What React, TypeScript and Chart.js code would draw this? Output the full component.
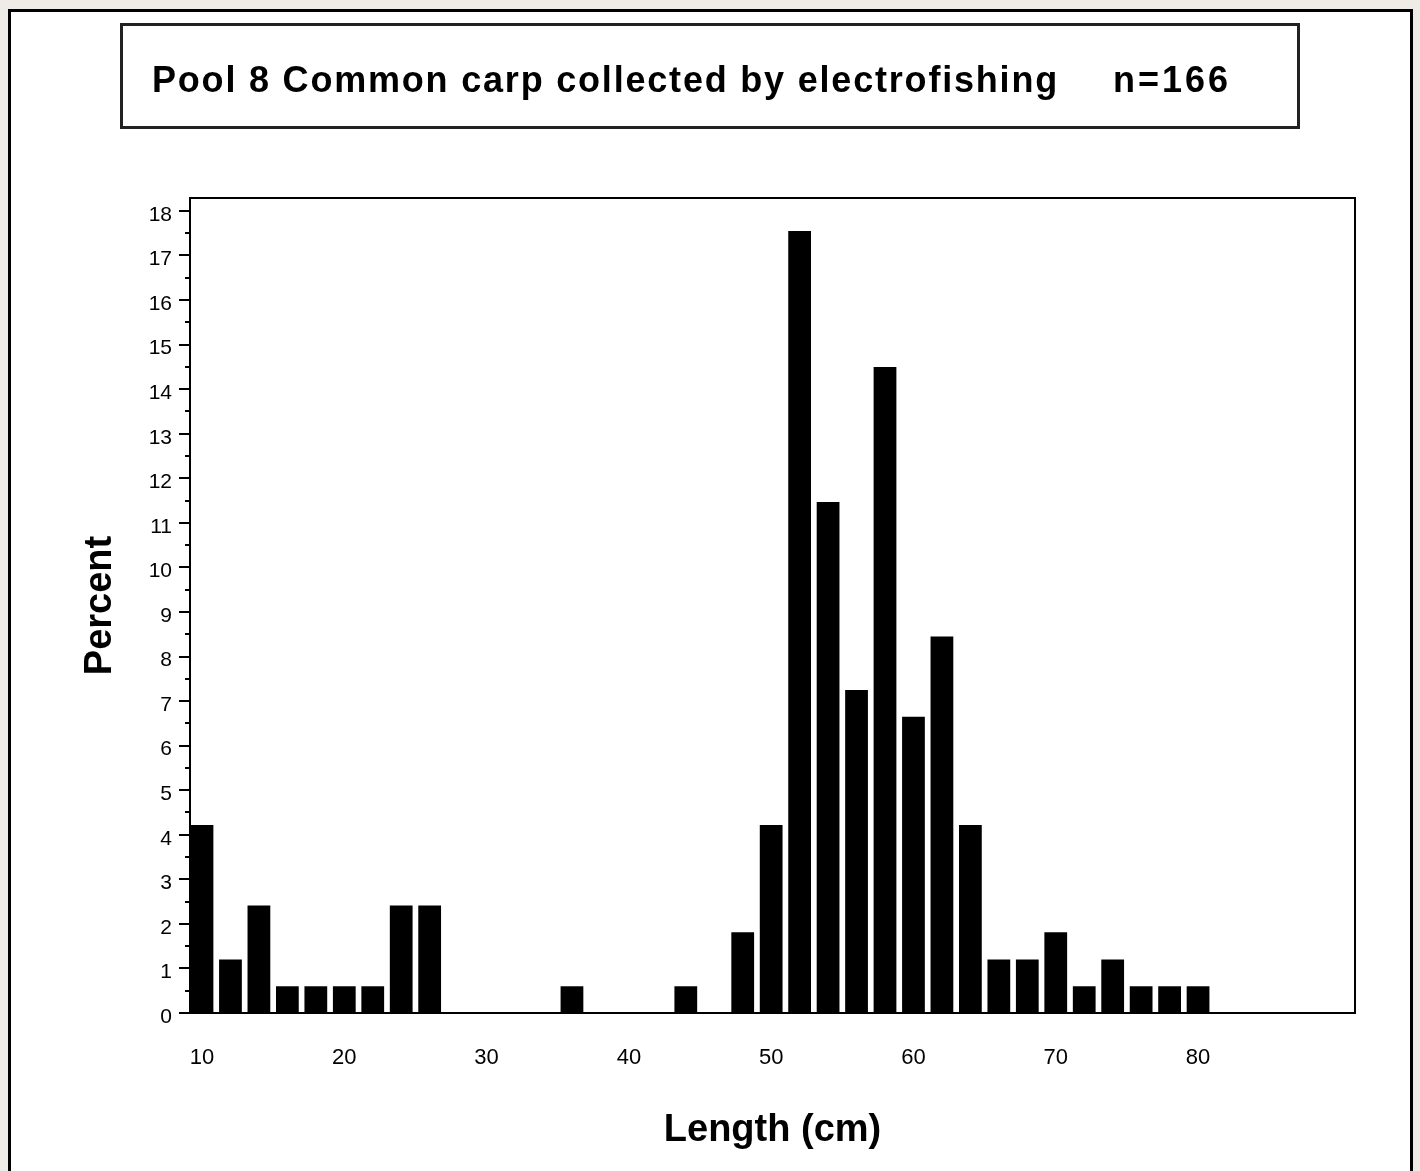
import React, { useEffect, useRef } from "react";
import { Chart, registerables } from "chart.js";

Chart.register(...registerables);

// Length classes (cm), bar centres
const lengthClasses = [
  10, 12, 14, 16, 18, 20, 22, 24, 26, 28, 30, 32, 34, 36, 38, 40, 42, 44,
  46, 48, 50, 52, 54, 56, 58, 60, 62, 64, 66, 68, 70, 72, 74, 76, 78, 80,
];

// Percent of fish in each class (n = 166)
const percentValues = [
  4.22, 1.2, 2.41, 0.6, 0.6, 0.6, 0.6, 2.41, 2.41, 0, 0, 0, 0, 0.6, 0, 0, 0,
  0.6, 0, 1.81, 4.22, 17.55, 11.47, 7.25, 14.5, 6.65, 8.45, 4.22, 1.2, 1.2,
  1.81, 0.6, 1.2, 0.6, 0.6, 0.6,
];

const xTickValues = [10, 20, 30, 40, 50, 60, 70, 80];
const yTickValues = [0, 1, 2, 3, 4, 5, 6, 7, 8, 9, 10, 11, 12, 13, 14, 15, 16, 17, 18];
const yMinorTickValues = yTickValues.slice(0, -1).map((v) => v + 0.5);

const titleMain = "Pool 8 Common carp collected by electrofishing";
const titleCount = "n=166";
const xTitle = "Length (cm)";
const yTitle = "Percent";

const FONT = "'Liberation Sans', Arial, Helvetica, sans-serif";

const frameTicksPlugin = {
  id: "frameTicks",
  afterDraw(chart: any) {
    const { ctx, chartArea } = chart;
    const { left, top, right, bottom } = chartArea;
    const yScale = chart.scales.y;
    ctx.save();
    ctx.strokeStyle = "#000";
    ctx.lineWidth = 2;
    ctx.strokeRect(left, top, right - left, bottom - top);
    ctx.beginPath();
    for (const v of yTickValues) {
      const py = Math.round(yScale.getPixelForValue(v));
      ctx.moveTo(left - 11, py);
      ctx.lineTo(left, py);
    }
    for (const v of yMinorTickValues) {
      const py = Math.round(yScale.getPixelForValue(v));
      ctx.moveTo(left - 5, py);
      ctx.lineTo(left, py);
    }
    ctx.stroke();
    ctx.restore();
  },
};

export default function App() {
  const canvasRef = useRef<HTMLCanvasElement | null>(null);

  useEffect(() => {
    const canvas = canvasRef.current;
    if (!canvas) return;
    const chart = new Chart(canvas, {
      type: "bar",
      data: {
        datasets: [
          {
            label: "Percent",
            data: lengthClasses.map((x, i) => ({ x, y: percentValues[i] })),
            backgroundColor: "#000",
            borderWidth: 0,
            barPercentage: 0.8,
            categoryPercentage: 1,
          },
        ],
      },
      options: {
        responsive: false,
        animation: false,
        devicePixelRatio: 1,
        layout: { padding: { top: 198, right: 65, bottom: 18, left: 78 } },
        plugins: {
          legend: { display: false },
          tooltip: { enabled: false },
          title: { display: false },
        },
        scales: {
          x: {
            type: "linear",
            min: 9.157,
            max: 91.03,
            offset: false,
            grid: { display: false, drawTicks: false, tickLength: 0 },
            border: { display: false },
            afterBuildTicks: (scale: any) => {
              scale.ticks = xTickValues.map((value) => ({ value }));
            },
            afterFit: (scale: any) => {
              scale.height = 140;
            },
            ticks: {
              color: "#000",
              font: { family: FONT, size: 22 },
              padding: 32,
              maxRotation: 0,
              autoSkip: false,
            },
            title: {
              display: true,
              text: xTitle,
              color: "#000",
              font: { family: FONT, size: 38, weight: "bold" },
              padding: 0,
            },
          },
          y: {
            type: "linear",
            min: 0,
            max: 18.29,
            grid: { display: false, drawTicks: false, tickLength: 0 },
            border: { display: false },
            afterBuildTicks: (scale: any) => {
              scale.ticks = yTickValues.map((value) => ({ value }));
            },
            afterFit: (scale: any) => {
              scale.width = 112;
            },
            ticks: {
              color: "#000",
              font: { family: FONT, size: 21 },
              padding: 18,
              labelOffset: 4,
              autoSkip: false,
            },
            title: {
              display: true,
              text: yTitle,
              color: "#000",
              font: { family: FONT, size: 38, weight: "bold" },
              padding: 0,
            },
          },
        },
      },
      plugins: [frameTicksPlugin],
    } as any);
    return () => chart.destroy();
  }, []);

  return (
    <div
      style={{
        position: "absolute",
        left: 0,
        top: 0,
        width: 1420,
        height: 1171,
        background: "#efece8",
        overflow: "hidden",
      }}
    >
      <div
        style={{
          position: "absolute",
          left: 8,
          top: 9,
          width: 1405,
          height: 1220,
          boxSizing: "border-box",
          border: "3px solid #000",
          background: "#fff",
        }}
      />
      <canvas
        ref={canvasRef}
        width={1420}
        height={1171}
        style={{ position: "absolute", left: 0, top: 0, width: 1420, height: 1171 }}
      />
      <div
        style={{
          position: "absolute",
          left: 120,
          top: 23,
          width: 1180,
          height: 106,
          boxSizing: "border-box",
          border: "3px solid #222",
        }}
      />
      <span
        style={{
          position: "absolute",
          left: 152,
          top: 62,
          fontFamily: FONT,
          fontSize: 36,
          fontWeight: "bold",
          lineHeight: "36px",
          letterSpacing: "1.8px",
          whiteSpace: "nowrap",
          color: "#000",
        }}
      >
        {titleMain}
      </span>
      <span
        style={{
          position: "absolute",
          left: 1113,
          top: 62,
          fontFamily: FONT,
          fontSize: 36,
          fontWeight: "bold",
          lineHeight: "36px",
          letterSpacing: "3px",
          whiteSpace: "nowrap",
          color: "#000",
        }}
      >
        {titleCount}
      </span>
    </div>
  );
}
